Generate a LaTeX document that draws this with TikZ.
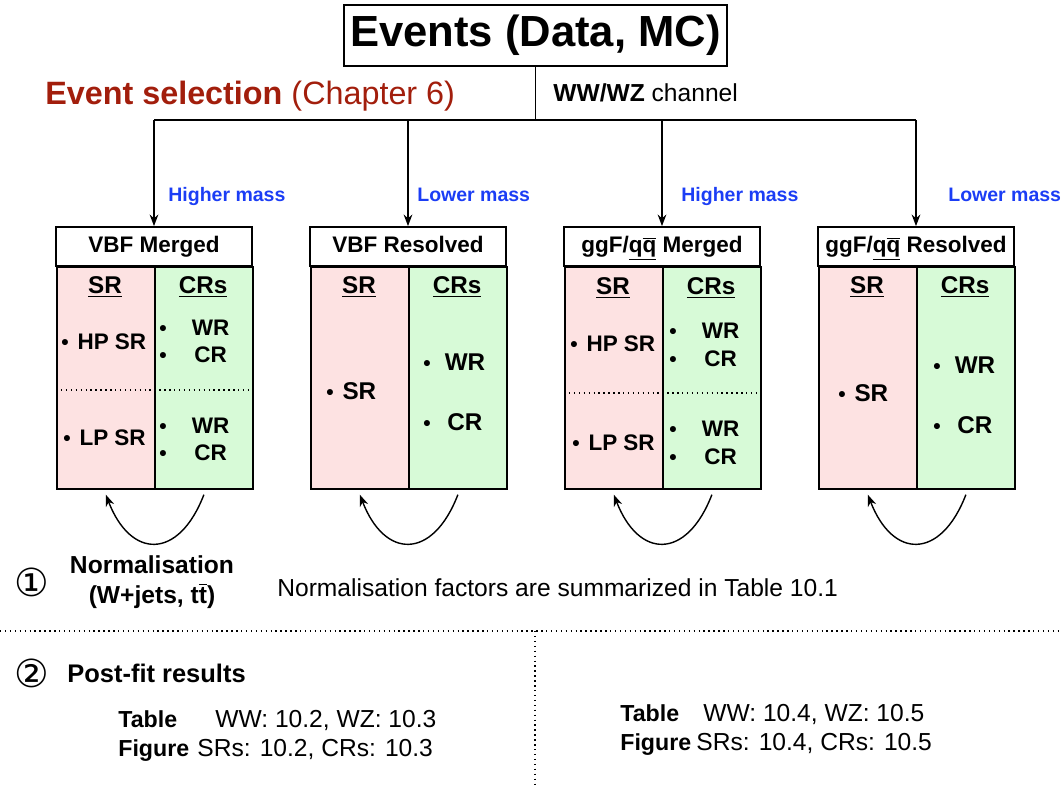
\documentclass[tikz,border=0pt]{standalone}
\usepackage{fontspec}
\setmainfont{Liberation Sans}
\newfontfamily\symfont{DejaVu Sans}
\usetikzlibrary{arrows.meta,positioning,calc}
\tikzset{>=Stealth}
\usepackage{xcolor}
\definecolor{selred}{HTML}{A21E0C}
\definecolor{massblue}{HTML}{1B3DF5}
\definecolor{srpink}{HTML}{FDE2E2}
\definecolor{crgreen}{HTML}{D7FAD7}
\newcommand{\bul}{{\fontsize{12}{12}\selectfont\textbullet}}
\newcommand{\qqbar}{\underline{q$\overline{\mbox{q}}$}}
\newcommand{\critem}[2]{\bul\makebox[#1]{#2}}

\begin{document}
\begin{tikzpicture}[
    x=0.02cm, y=-0.02cm,
    header/.style={rectangle, draw, line width=1pt, fill=white, minimum width=3.92cm, minimum height=0.78cm, inner sep=0pt, text height=9.5pt, text depth=2.5pt, font=\fontsize{12.8}{15}\selectfont\bfseries},
    srcol/.style={rectangle, draw, line width=1pt, fill=srpink, minimum width=1.96cm, minimum height=4.44cm, anchor=north west},
    crcol/.style={srcol, fill=crgreen},
    colhead/.style={inner sep=0pt, font=\fontsize{13.8}{16}\selectfont\bfseries},
    item/.style={anchor=west, inner sep=0pt, font=\fontsize{12.8}{15}\selectfont\bfseries},
    bigitem/.style={item, font=\fontsize{13.8}{16}\selectfont\bfseries},
    mass/.style={anchor=base west, inner sep=0pt, text=massblue, font=\fontsize{11.1}{13}\selectfont\bfseries},
    txt/.style={anchor=base west, inner sep=0pt, font=\fontsize{14}{17}\selectfont},
    txtb/.style={txt, font=\fontsize{13.2}{17}\selectfont\bfseries},
    circnum/.style={inner sep=0pt, font=\symfont\fontsize{22}{26}\selectfont},
    arrow/.style={->, line width=0.8pt},
    normarrow/.style={->, line width=0.8pt},
    sep/.style={dotted, line width=0.8pt}
]
    \useasboundingbox (0,0) rectangle (1062,787);

    % top: events and selection
    \node[draw, line width=1.2pt, minimum width=7.66cm, minimum height=1.22cm, font=\fontsize{24.8}{28}\selectfont\bfseries] (ev) at (535.5,35.5) {Events (Data, MC)};
    \node[anchor=base west, inner sep=0pt, text=selred, font=\fontsize{18.4}{22}\selectfont] (sel) at (45,105) {\textbf{Event selection} (Chapter 6)};
    \node[anchor=base west, inner sep=0pt, font=\fontsize{14}{16}\selectfont] (chan) at (553,102) {\textbf{WW/WZ} channel};

    % category headers
    \node[header] (hA) at (154,246.5) {VBF Merged};
    \node[header] (hB) at (408,246.5) {VBF Resolved};
    \node[header] (hC) at (662,246.5) {ggF/\qqbar{} Merged};
    \node[header] (hD) at (916,246.5) {ggF/\qqbar{} Resolved};

    \coordinate (bar) at (537,120);
    \draw[line width=0.8pt] (ev.south) -- (ev.south |- bar);
    \draw[line width=0.8pt] (hA.north |- bar) -- (hD.north |- bar);
    \draw[arrow] (hA.north |- bar) -- (hA.north);
    \draw[arrow] (hB.north |- bar) -- (hB.north);
    \draw[arrow] (hC.north |- bar) -- (hC.north);
    \draw[arrow] (hD.north |- bar) -- (hD.north);

    \node[mass] (mA) at (168,202) {Higher mass};
    \node[mass] (mB) at (417,202) {Lower mass};
    \node[mass] (mC) at (681,202) {Higher mass};
    \node[mass] (mD) at (948,202) {Lower mass};

    % columns
    \node[srcol] (srA) at (56,266) {};
    \node[crcol] (crA) at (154,266) {};
    \node[srcol] (srB) at (310,266) {};
    \node[crcol] (crB) at (408,266) {};
    \node[srcol] (srC) at (564,266) {};
    \node[crcol] (crC) at (662,266) {};
    \node[srcol] (srD) at (818,266) {};
    \node[crcol] (crD) at (916,266) {};

    \node[colhead] (shA) at (105,287) {\underline{SR}};
    \node[colhead] (chA) at (203,287) {\underline{CRs}};
    \node[colhead] (shB) at (359,287) {\underline{SR}};
    \node[colhead] (chB) at (457,287) {\underline{CRs}};
    \node[colhead] (shC) at (613,288) {\underline{SR}};
    \node[colhead] (chC) at (711,288) {\underline{CRs}};
    \node[colhead] (shD) at (867,287) {\underline{SR}};
    \node[colhead] (chD) at (965,287) {\underline{CRs}};

    % VBF Merged
    \node[item] (hpA) at (61,342) {\bul\hspace{5pt}HP SR};
    \node[item] (wrA1) at (159,328) {\critem{50pt}{WR}};
    \node[item] (crA1) at (159,355) {\critem{50pt}{CR}};
    \draw[sep] (56,390) -- (252,390);
    \node[item] (lpA) at (63,438) {\bul\hspace{5pt}LP SR};
    \node[item] (wrA2) at (159,426) {\critem{50pt}{WR}};
    \node[item] (crA2) at (159,453) {\critem{50pt}{CR}};

    % VBF Resolved
    \node[bigitem] (sB) at (326,391) {\bul\hspace{5pt}SR};
    \node[bigitem] (wrB) at (423,362) {\critem{39pt}{WR}};
    \node[bigitem] (crB1) at (423,422) {\critem{39pt}{CR}};

    % ggF Merged
    \node[item] (hpC) at (570,344) {\bul\hspace{5pt}HP SR};
    \node[item] (wrC1) at (669,331) {\critem{50pt}{WR}};
    \node[item] (crC1) at (669,359) {\critem{50pt}{CR}};
    \draw[sep] (564,393) -- (760,393);
    \node[item] (lpC) at (572,443) {\bul\hspace{5pt}LP SR};
    \node[item] (wrC2) at (669,429) {\critem{50pt}{WR}};
    \node[item] (crC2) at (669,457) {\critem{50pt}{CR}};

    % ggF Resolved
    \node[bigitem] (sD) at (838,393) {\bul\hspace{5pt}SR};
    \node[bigitem] (wrD) at (933,365) {\critem{39pt}{WR}};
    \node[bigitem] (crD1) at (933,425) {\critem{39pt}{CR}};

    % normalisation loops
    \draw[normarrow] ([yshift=-0.1cm]crA.south) .. controls +(-25,65) and +(25,65) .. ([yshift=-0.1cm]srA.south);
    \draw[normarrow] ([yshift=-0.1cm]crB.south) .. controls +(-25,65) and +(25,65) .. ([yshift=-0.1cm]srB.south);
    \draw[normarrow] ([yshift=-0.1cm]crC.south) .. controls +(-25,65) and +(25,65) .. ([yshift=-0.1cm]srC.south);
    \draw[normarrow] ([yshift=-0.1cm]crD.south) .. controls +(-25,65) and +(25,65) .. ([yshift=-0.1cm]srD.south);

    % bottom part
    \node[circnum] (c1) at (32,582) {①};
    \node[align=center, inner sep=0pt, font=\fontsize{14}{17}\selectfont\bfseries] (norm) at (152,582) {Normalisation\\(W+jets, t$\overline{\mbox{t}}$)};
    \node[txt] (nf) at (277,596) {Normalisation factors are summarized in Table 10.1};

    \draw[sep] (0,631) -- (1062,631);
    \draw[sep] (535,631) -- (535,787);

    \node[circnum] (c2) at (32,673) {②};
    \node[txt, font=\fontsize{14.5}{17}\selectfont\bfseries] (pf) at (67,682) {Post-fit results};

    \node[txtb] (tabL) at (118,727) {Table};
    \node[txt] (tabLv) at (215,727) {WW: 10.2, WZ: 10.3};
    \node[txtb] (figL) at (118,756) {Figure};
    \node[txt] (figLv) at (197,756) {SRs: 10.2, CRs: 10.3};

    \node[txtb] (tabR) at (620,721) {Table};
    \node[txt] (tabRv) at (703,721) {WW: 10.4, WZ: 10.5};
    \node[txtb] (figR) at (620,750) {Figure};
    \node[txt] (figRv) at (696,750) {SRs: 10.4, CRs: 10.5};
\end{tikzpicture}
\end{document}
